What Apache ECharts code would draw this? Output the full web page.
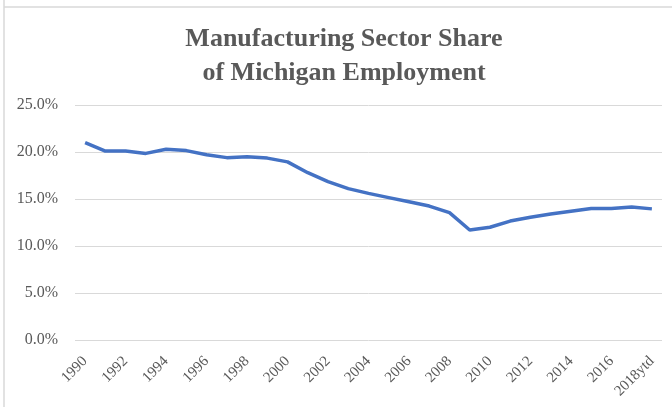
<!DOCTYPE html>
<html>
<head>
<meta charset="utf-8">
<script src="https://cdn.jsdelivr.net/npm/echarts@6/dist/echarts.min.js"></script>
<style>
  html, body { margin: 0; padding: 0; background: #fff; }
  #chart { width: 672px; height: 407px; }
</style>
</head>
<body>
<div id="chart"></div>
<script>
// Years shown on the category axis
const years = ['1990', '1991', '1992', '1993', '1994', '1995', '1996', '1997', '1998', '1999',
  '2000', '2001', '2002', '2003', '2004', '2005', '2006', '2007', '2008', '2009',
  '2010', '2011', '2012', '2013', '2014', '2015', '2016', '2017', '2018ytd'];

// Manufacturing share of Michigan employment, percent
const mfgShare = [21.0, 20.1, 20.1, 19.85, 20.3, 20.15, 19.7, 19.4, 19.5, 19.35,
  18.95, 17.8, 16.85, 16.1, 15.6, 15.15, 14.7, 14.25, 13.55, 11.7,
  12.0, 12.65, 13.05, 13.4, 13.7, 14.0, 14.0, 14.15, 13.95];

const chart = echarts.init(document.getElementById('chart'));

const grey = '#595959';
const serif = '"Liberation Serif", "Times New Roman", serif';

chart.setOption({
  animation: false,
  title: {
    text: 'Manufacturing Sector Share\nof Michigan Employment',
    left: 339,
    textAlign: 'center',
    top: 17,
    textStyle: {
      fontFamily: serif,
      fontWeight: 'bold',
      fontSize: 26,
      lineHeight: 34,
      color: grey
    }
  },
  grid: { left: 75, right: 10, top: 105, bottom: 67, containLabel: false },
  xAxis: {
    type: 'category',
    data: years,
    boundaryGap: true,
    axisLine: { show: false },
    axisTick: { show: false },
    axisLabel: {
      interval: 1,
      rotate: 45,
      margin: 19,
      fontFamily: serif,
      fontSize: 15,
      color: grey
    }
  },
  yAxis: {
    type: 'value',
    min: 0,
    max: 25,
    interval: 5,
    axisLine: { show: false },
    axisTick: { show: false },
    axisLabel: {
      margin: 17,
      fontFamily: serif,
      fontSize: 16,
      color: grey,
      formatter: v => v.toFixed(1) + '%'
    },
    splitLine: { lineStyle: { color: '#d9d9d9', width: 1 } }
  },
  series: [{
    type: 'line',
    data: mfgShare,
    showSymbol: false,
    lineStyle: { color: '#4472c4', width: 3.5 }
  }],
  graphic: [
    { type: 'line', shape: { x1: 4, y1: 0, x2: 4, y2: 407 }, style: { stroke: '#d9d9d9', lineWidth: 1.5 } },
    { type: 'line', shape: { x1: 4, y1: 7, x2: 672, y2: 7 }, style: { stroke: '#d9d9d9', lineWidth: 1.5 } }
  ]
});
</script>
</body>
</html>
